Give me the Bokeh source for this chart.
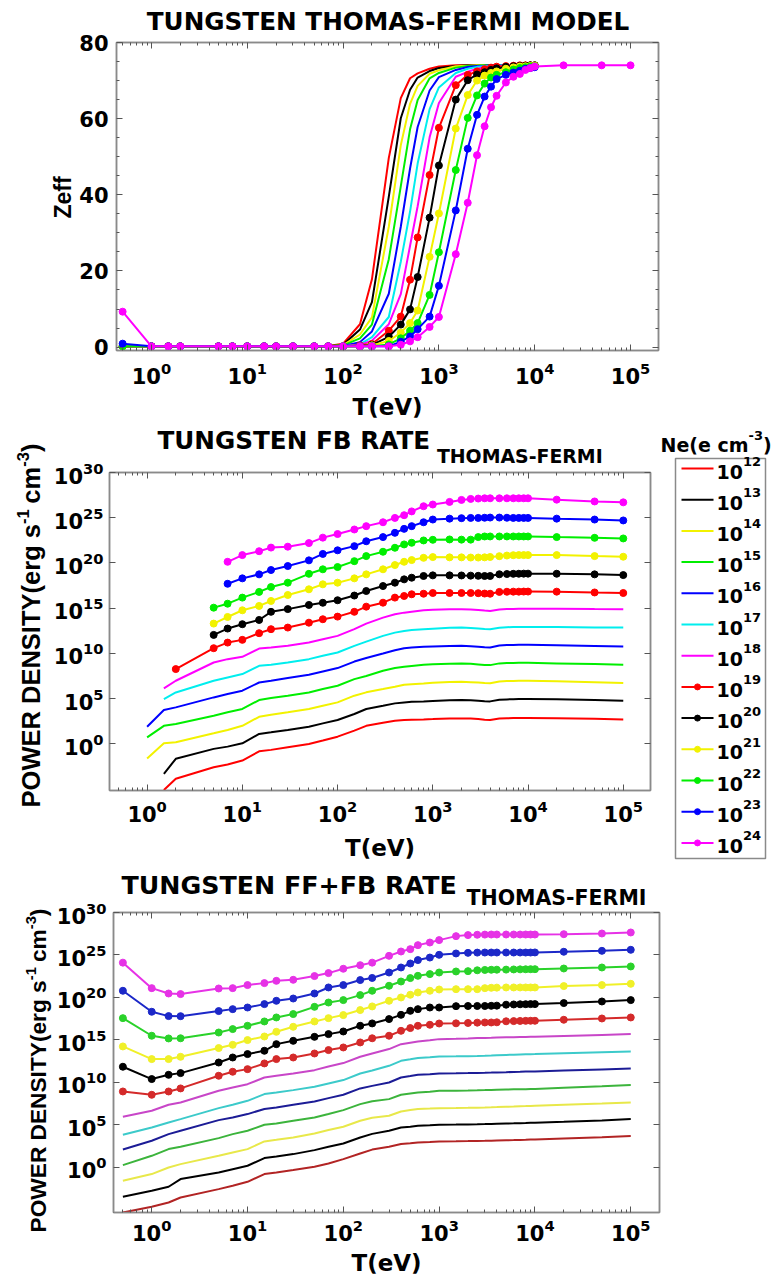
import math
import numpy as np
from bokeh.plotting import figure
from bokeh.layouts import column, row
from bokeh.models import (Range1d, FixedTicker, LogAxis, LinearAxis,
                          CustomJSTickFormatter, ColumnDataSource)
from bokeh.core.properties import value
from bokeh.embed import file_html
from bokeh.resources import INLINE

N = float("nan")

# ---------------------------------------------------------------- data
T_eV = [0.5, 1, 1.5, 2, 5, 7, 10, 15, 20, 30, 50, 70, 100, 150, 200, 300, 400, 500, 600, 800,
        1000, 1500, 2000, 2500, 3000, 3500, 4000, 5000, 6000, 7000, 8000, 9000, 10000,
        20000, 50000, 100000]
ne_exponents = ["12", "13", "14", "15", "16", "17", "18", "19", "20", "21", "22", "23", "24"]
x_ticks = [1, 10, 100, 1000, 10000, 100000]
zeff_ticks = [0, 20, 40, 60, 80]
power_ticks = [1e0, 1e5, 1e10, 1e15, 1e20, 1e25, 1e30]

# Zeff (panel 1)
zeff_ne12 = [0.2, 0.2, 0.2, 0.2, 0.2, 0.2, 0.2, 0.2, 0.2, 0.2, 0.2, 0.3, 0.9, 6.0, 17.8, 49.7, 65.4, 70.6, 71.9, 73.1, 73.7, 74, 74, 74, 74, 74, 74, 74, 74, 74, 74, 74, 74, N, N, N]
zeff_ne13 = [0.2, 0.2, 0.2, 0.2, 0.2, 0.2, 0.2, 0.2, 0.2, 0.2, 0.2, 0.2, 0.6, 4.6, 11.8, 39.5, 60.1, 67.6, 70.8, 72.5, 73.3, 73.85, 74, 74, 74, 74, 74, 74, 74, 74, 74, 74, 74, N, N, N]
zeff_ne14 = [0.2, 0.2, 0.2, 0.2, 0.2, 0.2, 0.2, 0.2, 0.2, 0.2, 0.2, 0.2, 0.5, 3.3, 7.8, 31.6, 53.0, 63.9, 68.6, 71.8, 72.7, 73.75, 73.9, 74, 74, 74, 74, 74, 74, 74, 74, 74, 74, N, N, N]
zeff_ne15 = [0.2, 0.2, 0.2, 0.2, 0.2, 0.2, 0.2, 0.2, 0.2, 0.2, 0.2, 0.2, 0.45, 2.3, 5.9, 23.1, 42.2, 57.2, 64.9, 70.6, 72.0, 73.4, 73.8, 73.9, 74, 74, 74, 74, 74, 74, 74, 74, 74, N, N, N]
zeff_ne16 = [0.2, 0.2, 0.2, 0.2, 0.2, 0.2, 0.2, 0.2, 0.2, 0.2, 0.2, 0.2, 0.3, 1.3, 4.1, 14.0, 31.6, 46.9, 57.8, 67.4, 70.9, 72.8, 73.55, 73.8, 73.9, 74, 74, 74, 74, 74, 74, 74, 74, N, N, N]
zeff_ne17 = [0.2, 0.2, 0.2, 0.2, 0.2, 0.2, 0.2, 0.2, 0.2, 0.2, 0.2, 0.2, 0.2, 0.7, 2.6, 7.9, 22.4, 35.6, 48.2, 62.5, 68.2, 72.0, 73.1, 73.6, 73.75, 73.85, 73.9, 74, 74, 74, 74, 74, 74, N, N, N]
zeff_ne18 = [0.2, 0.2, 0.2, 0.2, 0.2, 0.2, 0.2, 0.2, 0.2, 0.2, 0.2, 0.2, 0.2, 0.55, 1.7, 6.0, 13.9, 26.6, 37.0, 55.1, 64.1, 71.0, 72.3, 73.1, 73.5, 73.75, 73.8, 73.9, 74, 74, 74, 74, 74, N, N, N]
zeff_ne19 = [0.2, 0.2, 0.2, 0.2, 0.2, 0.2, 0.2, 0.2, 0.2, 0.2, 0.2, 0.2, 0.2, 0.45, 0.8, 4.3, 8.0, 17.7, 28.8, 45.2, 57.6, 68.8, 71.5, 72.4, 73.0, 73.4, 73.65, 73.8, 73.9, 74, 74, 74, 74, N, N, N]
zeff_ne20 = [0.2, 0.2, 0.2, 0.2, 0.2, 0.2, 0.2, 0.2, 0.2, 0.2, 0.2, 0.2, 0.2, 0.2, 0.6, 2.7, 5.9, 9.9, 18.4, 34.0, 47.7, 65.0, 70.1, 71.6, 72.2, 72.8, 73.2, 73.6, 73.75, 73.85, 73.9, 74, 74, N, N, N]
zeff_ne21 = [0.2, 0.2, 0.2, 0.2, 0.2, 0.2, 0.2, 0.2, 0.2, 0.2, 0.2, 0.2, 0.2, 0.2, 0.45, 1.6, 3.8, 6.3, 9.6, 23.7, 35.1, 57.4, 66.2, 70.0, 71.3, 72.0, 72.4, 73.1, 73.45, 73.7, 73.75, 73.85, 73.9, N, N, N]
zeff_ne22 = [0.2, 0.2, 0.2, 0.2, 0.2, 0.2, 0.2, 0.2, 0.2, 0.2, 0.2, 0.2, 0.2, 0.2, 0.2, 0.7, 2.3, 4.3, 6.3, 13.7, 24.9, 46.5, 60.2, 66.1, 69.2, 70.8, 71.5, 72.2, 72.9, 73.3, 73.5, 73.7, 73.75, N, N, N]
zeff_ne23 = [0.9, 0.2, 0.2, 0.2, 0.2, 0.2, 0.2, 0.2, 0.2, 0.2, 0.2, 0.2, 0.2, 0.2, 0.2, 0.2, 1.4, 2.8, 4.7, 8.0, 16.1, 35.9, 52.1, 61.0, 65.8, 68.4, 70.4, 71.5, 72.1, 72.6, 73.1, 73.3, 73.5, N, N, N]
zeff_ne24 = [9.3, 0.2, 0.2, 0.2, 0.2, 0.2, 0.2, 0.2, 0.2, 0.2, 0.2, 0.2, 0.2, 0.2, 0.2, 0.2, 0.6, 1.5, 2.6, 5.3, 7.9, 24.4, 37.9, 50.4, 58.0, 63.0, 66.0, 69.5, 71.0, 71.75, 72.8, 73.3, 73.7, 74, 74, 74]

# log10 of FB power density (panel 2)
log_fb_ne12 = [N, N, -5.1, -3.86, -2.58, -2.28, -1.84, -0.82, -0.66, -0.37, 0.0, 0.37, 0.8, 1.47, 2.0, 2.35, 2.57, 2.65, 2.68, 2.71, 2.74, 2.8, 2.82, 2.8, 2.75, 2.68, 2.65, 2.82, 2.84, 2.85, 2.86, 2.86, 2.86, 2.84, 2.78, 2.71]
log_fb_ne13 = [N, N, -3.3, -1.65, -0.55, -0.3, 0.07, 1.1, 1.28, 1.54, 1.9, 2.27, 2.65, 3.31, 3.86, 4.22, 4.48, 4.59, 4.65, 4.7, 4.75, 4.82, 4.85, 4.82, 4.78, 4.72, 4.7, 4.88, 4.92, 4.94, 4.96, 4.96, 4.96, 4.93, 4.85, 4.77]
log_fb_ne14 = [N, -1.6, 0.07, 0.18, 1.17, 1.54, 2.0, 3.0, 3.23, 3.49, 3.86, 4.22, 4.59, 5.33, 5.7, 6.06, 6.32, 6.54, 6.6, 6.68, 6.75, 6.85, 6.87, 6.82, 6.78, 6.72, 6.7, 6.9, 6.94, 6.96, 6.98, 6.98, 6.98, 6.92, 6.82, 6.73]
log_fb_ne15 = [N, 0.73, 2.0, 2.2, 3.12, 3.49, 3.86, 4.85, 5.07, 5.33, 5.69, 6.06, 6.43, 7.16, 7.5, 8.08, 8.38, 8.52, 8.62, 8.74, 8.8, 8.87, 8.89, 8.85, 8.78, 8.72, 8.71, 8.9, 8.93, 8.95, 8.96, 8.96, 8.96, 8.9, 8.82, 8.74]
log_fb_ne16 = [N, 1.9, 3.75, 4.04, 5.14, 5.51, 5.88, 6.79, 6.98, 7.28, 7.64, 8.0, 8.38, 9.1, 9.5, 9.99, 10.36, 10.58, 10.65, 10.73, 10.78, 10.83, 10.84, 10.8, 10.74, 10.68, 10.65, 10.88, 10.92, 10.94, 10.95, 10.95, 10.95, 10.9, 10.83, 10.76]
log_fb_ne17 = [N, N, 4.96, 5.69, 6.98, 7.35, 7.72, 8.63, 8.74, 9.0, 9.37, 9.74, 10.1, 10.84, 11.3, 11.94, 12.3, 12.49, 12.58, 12.68, 12.74, 12.84, 12.86, 12.82, 12.76, 12.7, 12.68, 12.85, 12.9, 12.92, 12.93, 12.93, 12.93, 12.92, 12.88, 12.86]
log_fb_ne18 = [N, N, 6.13, 6.98, 9.0, 9.37, 9.63, 10.54, 10.65, 10.84, 11.2, 11.57, 11.94, 12.68, 13.3, 13.96, 14.33, 14.51, 14.62, 14.77, 14.82, 14.88, 14.88, 14.85, 14.8, 14.74, 14.7, 14.85, 14.9, 14.92, 14.95, 14.95, 14.95, 14.94, 14.9, 14.88]
log_fb_ne19 = [N, N, N, 8.27, 10.58, 11.2, 11.5, 12.24, 12.68, 12.86, 13.4, 13.78, 14.07, 14.6, 15.17, 15.61, 16.17, 16.35, 16.54, 16.6, 16.68, 16.68, 16.68, 16.68, 16.66, 16.62, 16.6, 16.8, 16.82, 16.83, 16.83, 16.84, 16.84, 16.83, 16.74, 16.68]
log_fb_ne20 = [N, N, N, N, 12.05, 12.75, 13.23, 13.7, 14.6, 14.9, 15.36, 15.6, 15.88, 16.4, 16.9, 17.45, 17.82, 18.19, 18.37, 18.56, 18.63, 18.63, 18.62, 18.6, 18.58, 18.56, 18.56, 18.75, 18.78, 18.8, 18.81, 18.82, 18.82, 18.81, 18.74, 18.66]
log_fb_ne21 = [N, N, N, N, 13.3, 14.03, 14.77, 15.25, 15.8, 16.46, 17.09, 17.64, 17.82, 18.3, 18.74, 19.3, 19.77, 20.13, 20.32, 20.57, 20.65, 20.62, 20.62, 20.6, 20.6, 20.62, 20.66, 20.75, 20.82, 20.86, 20.87, 20.87, 20.87, 20.87, 20.76, 20.69]
log_fb_ne22 = [N, N, N, N, 15.06, 15.5, 16.17, 16.8, 17.34, 17.82, 18.8, 19.3, 19.55, 20.2, 20.76, 21.24, 21.68, 22.05, 22.23, 22.49, 22.56, 22.6, 22.58, 22.58, 22.86, 22.93, 22.93, 22.93, 22.93, 22.93, 22.93, 22.93, 22.93, 22.86, 22.78, 22.71]
log_fb_ne23 = [N, N, N, N, N, 17.7, 18.3, 18.74, 19.22, 19.66, 20.29, 21.0, 21.4, 21.86, 22.4, 22.86, 23.33, 23.77, 24.07, 24.5, 24.8, 24.9, 24.95, 24.98, 24.98, 25.0, 25.02, 25.02, 25.0, 24.98, 24.98, 24.98, 24.98, 24.9, 24.8, 24.7]
log_fb_ne24 = [N, N, N, N, N, 20.13, 20.87, 21.3, 21.7, 21.8, 22.2, 22.8, 23.2, 23.7, 24.07, 24.5, 24.98, 25.28, 25.7, 26.27, 26.46, 26.75, 26.97, 27.08, 27.12, 27.15, 27.15, 27.15, 27.15, 27.15, 27.15, 27.15, 27.15, 27.0, 26.8, 26.7]

# log10 of FF+FB power density (panel 3)
log_ffb_ne12 = [-5.3, -4.63, -4.12, -3.53, -2.55, -2.16, -1.69, -0.78, -0.59, -0.31, 0.08, 0.47, 0.98, 1.65, 2.1, 2.43, 2.75, 2.85, 2.94, 3.0, 3.06, 3.08, 3.1, 3.12, 3.13, 3.15, 3.17, 3.2, 3.22, 3.24, 3.26, 3.28, 3.29, 3.4, 3.55, 3.69]
log_ffb_ne13 = [-3.45, -2.74, -2.27, -1.37, -0.59, -0.2, 0.2, 1.1, 1.29, 1.57, 2.04, 2.43, 2.82, 3.53, 3.95, 4.32, 4.71, 4.8, 4.9, 4.96, 5.02, 5.04, 5.06, 5.08, 5.1, 5.12, 5.14, 5.17, 5.19, 5.21, 5.23, 5.25, 5.26, 5.37, 5.53, 5.69]
log_ffb_ne14 = [-1.57, -0.78, 0.0, 0.39, 1.37, 1.76, 2.16, 3.06, 3.25, 3.53, 4.0, 4.4, 4.79, 5.49, 5.85, 6.08, 6.59, 6.75, 6.87, 6.93, 6.98, 7.0, 7.02, 7.04, 7.06, 7.08, 7.1, 7.14, 7.17, 7.2, 7.22, 7.24, 7.26, 7.38, 7.52, 7.65]
log_ffb_ne15 = [0.28, 1.37, 2.16, 2.43, 3.45, 3.92, 4.32, 5.02, 5.18, 5.49, 5.88, 6.28, 6.75, 7.45, 7.8, 8.04, 8.55, 8.7, 8.82, 8.92, 9.02, 9.04, 9.06, 9.08, 9.1, 9.12, 9.14, 9.17, 9.19, 9.2, 9.21, 9.22, 9.22, 9.38, 9.55, 9.69]
log_ffb_ne16 = [2.12, 3.14, 3.92, 4.32, 5.57, 5.88, 6.28, 6.87, 7.06, 7.38, 7.76, 8.16, 8.55, 9.3, 9.6, 10.0, 10.59, 10.75, 10.9, 10.98, 11.06, 11.08, 11.1, 11.12, 11.14, 11.16, 11.18, 11.21, 11.24, 11.26, 11.28, 11.29, 11.29, 11.4, 11.54, 11.65]
log_ffb_ne17 = [3.84, 4.71, 5.29, 5.69, 6.98, 7.38, 7.84, 8.63, 8.82, 9.1, 9.49, 9.88, 10.28, 11.06, 11.4, 11.96, 12.55, 12.72, 12.87, 12.97, 13.06, 13.08, 13.1, 13.12, 13.14, 13.17, 13.2, 13.24, 13.27, 13.3, 13.32, 13.33, 13.34, 13.45, 13.56, 13.65]
log_ffb_ne18 = [5.96, 6.67, 7.38, 7.65, 9.02, 9.41, 9.8, 10.59, 10.79, 11.06, 11.45, 11.88, 12.28, 13.02, 13.4, 13.93, 14.51, 14.68, 14.82, 14.96, 15.1, 15.14, 15.18, 15.22, 15.24, 15.26, 15.28, 15.31, 15.33, 15.35, 15.36, 15.37, 15.37, 15.48, 15.6, 15.69]
log_ffb_ne19 = [8.94, 8.55, 8.94, 9.3, 10.79, 11.26, 11.57, 12.24, 12.75, 12.94, 13.41, 13.81, 14.12, 14.71, 15.2, 15.5, 16.08, 16.4, 16.67, 16.79, 16.94, 16.96, 17.0, 17.04, 17.06, 17.06, 17.08, 17.2, 17.22, 17.24, 17.25, 17.26, 17.26, 17.38, 17.53, 17.65]
log_ffb_ne20 = [11.85, 10.4, 10.9, 11.1, 12.35, 12.94, 13.34, 13.73, 14.51, 14.9, 15.37, 15.69, 16.0, 16.67, 16.95, 17.46, 17.96, 18.43, 18.63, 18.82, 18.82, 18.98, 19.0, 19.0, 19.0, 19.02, 19.04, 19.15, 19.18, 19.2, 19.21, 19.22, 19.22, 19.34, 19.53, 19.69]
log_ffb_ne21 = [14.24, 12.75, 12.75, 13.02, 14.05, 14.43, 14.99, 15.41, 15.96, 16.55, 17.18, 17.57, 17.93, 18.52, 18.95, 19.61, 20.0, 20.32, 20.59, 20.79, 20.94, 20.98, 20.98, 20.98, 21.1, 21.14, 21.16, 21.18, 21.18, 21.18, 21.18, 21.18, 21.18, 21.34, 21.46, 21.61]
log_ffb_ne22 = [17.57, 15.5, 15.18, 15.2, 15.88, 16.28, 16.67, 17.18, 17.65, 18.05, 18.9, 19.41, 19.69, 20.28, 20.79, 21.38, 21.88, 22.28, 22.55, 22.75, 22.94, 23.06, 23.1, 23.2, 23.24, 23.26, 23.27, 23.28, 23.3, 23.31, 23.32, 23.33, 23.33, 23.41, 23.53, 23.65]
log_ffb_ne23 = [20.79, 18.32, 17.81, 17.8, 18.4, 18.63, 18.82, 19.22, 19.61, 19.88, 20.47, 21.18, 21.46, 22.05, 22.3, 22.94, 23.53, 24.0, 24.4, 24.7, 25.02, 25.18, 25.25, 25.28, 25.29, 25.29, 25.29, 25.29, 25.29, 25.29, 25.29, 25.29, 25.3, 25.38, 25.49, 25.61]
log_ffb_ne24 = [24.1, 21.1, 20.47, 20.4, 21.06, 21.1, 21.46, 21.69, 21.96, 22.08, 22.52, 22.87, 23.38, 23.8, 24.1, 24.9, 25.41, 25.69, 26.16, 26.47, 26.75, 27.22, 27.34, 27.38, 27.4, 27.41, 27.41, 27.41, 27.41, 27.41, 27.41, 27.41, 27.41, 27.45, 27.53, 27.65]

# ---------------------------------------------------------------- style
series_colors = ["#ff0000", "#000000", "#f2f200", "#00ee00", "#0000ff", "#00eeee", "#ff00ff",
                 "#ff0000", "#000000", "#f2f200", "#00ee00", "#0000ff", "#ff00ff"]
series_colors_p3 = ["#b22424", "#000000", "#e8e84a", "#3cb43c", "#1c1c96", "#3ccaca", "#c846c8",
                    "#d42a2a", "#000000", "#f0f028", "#2ad22a", "#1c28c8", "#e632e6"]
has_markers = [False, False, False, False, False, False, False, True, True, True, True, True, True]

zeff_series = [zeff_ne12, zeff_ne13, zeff_ne14, zeff_ne15, zeff_ne16, zeff_ne17, zeff_ne18,
               zeff_ne19, zeff_ne20, zeff_ne21, zeff_ne22, zeff_ne23, zeff_ne24]
fb_series = [log_fb_ne12, log_fb_ne13, log_fb_ne14, log_fb_ne15, log_fb_ne16, log_fb_ne17, log_fb_ne18,
             log_fb_ne19, log_fb_ne20, log_fb_ne21, log_fb_ne22, log_fb_ne23, log_fb_ne24]
ffb_series = [log_ffb_ne12, log_ffb_ne13, log_ffb_ne14, log_ffb_ne15, log_ffb_ne16, log_ffb_ne17, log_ffb_ne18,
              log_ffb_ne19, log_ffb_ne20, log_ffb_ne21, log_ffb_ne22, log_ffb_ne23, log_ffb_ne24]

FONT_H = "DejaVu Sans"
FONT_V = "Liberation Sans"
BOX = "#8a8a8a"
TICK = "#555555"

minor_x = [m * 10.0 ** d for d in range(-1, 5) for m in range(2, 10)]
minor_zeff = [v for v in range(0, 81, 5) if v % 20]

# Liberation Sans Bold advance widths (per 1000 em), used to lay out the rotated label pieces
ARIAL_BOLD = {' ': 278, '(': 333, ')': 333, '-': 333, '1': 556, '3': 556, 'P': 667, 'O': 778,
              'W': 944, 'E': 667, 'R': 722, 'D': 722, 'N': 722, 'S': 667, 'I': 278, 'T': 611,
              'Y': 667, 'e': 556, 'r': 389, 'g': 611, 's': 556, 'c': 556, 'm': 889}


def arial_w(s, size):
    return sum(ARIAL_BOLD.get(c, 600) for c in s) * size / 1000.0


def style_axis(ax, standoff, size="21px"):
    ax.axis_line_color = BOX
    ax.axis_line_width = 1.5
    ax.major_tick_in = 6
    ax.major_tick_out = 0
    ax.minor_tick_in = 3
    ax.minor_tick_out = 0
    ax.major_tick_line_color = TICK
    ax.minor_tick_line_color = TICK
    ax.major_label_text_font = FONT_H
    ax.major_label_text_font_style = "bold"
    ax.major_label_text_font_size = size
    ax.major_label_text_color = "black"
    ax.major_label_standoff = standoff


def build_panel(width, height, left, right, top, bottom, overlap, xr, yr, ylog, yticks, yminor,
                xstand, ystand, xlabel_standoff):
    # the panel is pulled up by `overlap` px under the (text-only) strip above it; its border is transparent
    p = figure(width=width, height=height,
               x_axis_type="log", y_axis_type="log" if ylog else "linear",
               x_range=Range1d(*xr), y_range=Range1d(*yr),
               toolbar_location=None, output_backend="svg",
               min_border_left=left, min_border_right=right,
               min_border_top=top, min_border_bottom=bottom,
               margin=(-overlap, 0, 0, 0))
    p.border_fill_color = None
    p.background_fill_color = "white"
    p.grid.visible = False
    p.outline_line_color = BOX
    p.outline_line_width = 1.5
    xt = FixedTicker(ticks=x_ticks, minor_ticks=minor_x)
    yt = FixedTicker(ticks=yticks, minor_ticks=yminor)
    p.xaxis.ticker = xt
    p.yaxis.ticker = yt
    style_axis(p.xaxis[0], xstand)
    style_axis(p.yaxis[0], ystand)
    xa = p.xaxis[0]
    xa.axis_label = "T(eV)"
    xa.axis_label_text_font = FONT_H
    xa.axis_label_text_font_style = "bold"
    xa.axis_label_text_font_size = "23px"
    xa.axis_label_text_color = "black"
    xa.axis_label_standoff = xlabel_standoff
    top_ax = LogAxis(ticker=xt, formatter=CustomJSTickFormatter(code="return '';"))
    right_ax = (LogAxis if ylog else LinearAxis)(ticker=yt, formatter=CustomJSTickFormatter(code="return '';"))
    for ax in (top_ax, right_ax):
        style_axis(ax, 0, "1px")
    p.add_layout(top_ax, "above")
    p.add_layout(right_ax, "right")
    return p


def strip(w, h, x0, y0, left=0, right=0):
    """Text-only figure; its frame spans x0+left .. x0+w-right (same side borders as the panel below)."""
    fw = w - left - right
    s = figure(width=w, height=h, x_range=Range1d(0, fw), y_range=Range1d(0, h),
               toolbar_location=None, output_backend="svg",
               min_border_left=left, min_border_right=right, min_border_top=0, min_border_bottom=0,
               x_axis_location=None, y_axis_location=None)
    s.grid.visible = False
    s.outline_line_color = None
    return (s, x0 + left, y0, h)


def txt(st, t, xa, ya, size, font=FONT_H, align="left", angle=0.0):
    # (xa, ya) = page position of the visual centre line of the text
    f, fx0, y0, h = st
    f.text(x=[xa - fx0], y=[y0 + h - ya], text=[t], text_font=value(font), text_font_style="bold",
           text_font_size=value(f"{round(size, 1)}px"), text_align=align, text_baseline="middle",
           angle=angle, text_color="black")


def power_label(st, cx, cy, size):
    pieces = [("POWER DENSITY(erg s", False, 0.0), ("-1", True, 0.0), ("cm", False, 0.22),
              ("-3", True, 0.0), (")", False, 0.0)]
    sup = 0.65
    total = 0.0
    for t, s, g in pieces:
        total += g * size + arial_w(t, size * sup if s else size)
    pos = cy + total / 2.0
    for t, s, g in pieces:
        pos -= g * size
        fs = size * sup if s else size
        x = cx - (0.30 * size if s else 0.0)
        txt(st, t, x, pos, fs, font=FONT_V, angle=math.pi / 2)
        pos -= arial_w(t, fs)


def draw_series(p, x, ys, colors, size=7):
    for y, c, m in zip(ys, colors, has_markers):
        src = ColumnDataSource(dict(x=np.array(x, dtype=float), y=np.array(y, dtype=float)))
        p.line("x", "y", source=src, line_color=c, line_width=2)
        if m:
            p.scatter("x", "y", source=src, size=size, fill_color=c, line_color=c)


# ---------------------------------------------------------------- panel 1 (y 0..425)
yl1 = strip(76, 425, 0, 0)
t1 = strip(703, 36, 76, 0, 39, 121)
p1 = build_panel(703, 397, 39, 121, 14, 75, 8, (10 ** -0.365, 10 ** 5.292), (-0.9, 80), False,
                 zeff_ticks, minor_zeff, 11, 8, 7)
draw_series(p1, T_eV, zeff_series, series_colors, 7)
txt(t1, "TUNGSTEN THOMAS-FERMI MODEL", 387, 21, 24.7, align="center")
txt(yl1, "Zeff", 62, 197, 23, font=FONT_V, align="center", angle=math.pi / 2)

# ---------------------------------------------------------------- panel 2 (y 425..870)
yl2 = strip(50, 445, 0, 425)
t2 = strip(608, 41, 50, 425, 58, 8)
p2 = build_panel(608, 424, 58, 8, 26, 80, 20, (10 ** -0.395, 10 ** 5.286), (10 ** -5.15, 1e30), True,
                 power_ticks, [], 9, 6, 10)
fb_vals = [np.power(10.0, np.array(s, dtype=float)) for s in fb_series]
draw_series(p2, T_eV, fb_vals, series_colors, 7)
txt(t2, "TUNGSTEN FB RATE", 156, 440, 24.7)
txt(t2, "THOMAS-FERMI", 436, 455, 18.9)
power_label(yl2, 30, 625, 25.5)

LEG_W, LEG_H = 121, 445
pl = figure(width=LEG_W, height=LEG_H, x_range=Range1d(0, LEG_W), y_range=Range1d(LEG_H, 0),
            toolbar_location=None, output_backend="svg", min_border=0,
            x_axis_location=None, y_axis_location=None)
pl.grid.visible = False
pl.outline_line_color = None
pl.quad(left=[17], right=[107], top=[33], bottom=[433], fill_color="white",
        line_color=BOX, line_width=1.5)
entry_y = [43 + 31.2 * i for i in range(len(ne_exponents))]
pl.multi_line(xs=[[23, 55] for _ in entry_y], ys=[[y, y] for y in entry_y],
              line_color=series_colors, line_width=2)
mk = [i for i, m in enumerate(has_markers) if m]
pl.scatter(x=[39] * len(mk), y=[entry_y[i] for i in mk], size=6,
           fill_color=[series_colors[i] for i in mk], line_color=[series_colors[i] for i in mk])
pl.text(x=[58] * len(entry_y), y=[y + 3 for y in entry_y], text=["10"] * len(entry_y),
        text_font=value(FONT_H), text_font_style="bold", text_font_size=value("19px"),
        text_baseline="middle", text_align="left", text_color="black")
pl.text(x=[84.5] * len(entry_y), y=[y - 7 for y in entry_y], text=ne_exponents,
        text_font=value(FONT_H), text_font_style="bold", text_font_size=value("13px"),
        text_baseline="middle", text_align="left", text_color="black")
pl.text(x=[2], y=[19], text=["Ne(e cm"], text_font=value(FONT_H), text_font_style="bold",
        text_font_size=value("19px"), text_baseline="middle", text_align="left", text_color="black")
pl.text(x=[90], y=[10], text=["-3"], text_font=value(FONT_H), text_font_style="bold",
        text_font_size=value("13px"), text_baseline="middle", text_align="left", text_color="black")
pl.text(x=[104.5], y=[19], text=[")"], text_font=value(FONT_H), text_font_style="bold",
        text_font_size=value("19px"), text_baseline="middle", text_align="left", text_color="black")

# ---------------------------------------------------------------- panel 3 (y 870..1282)
yl3 = strip(52, 412, 0, 870)
t3 = strip(727, 39, 52, 870, 61, 120)
p3 = build_panel(727, 390, 61, 120, 20, 70, 17, (10 ** -0.399, 10 ** 5.30), (10 ** -5.3, 1e30), True,
                 power_ticks, [], 6, 7, 6)
ffb_vals = [np.power(10.0, np.array(s, dtype=float)) for s in ffb_series]
draw_series(p3, T_eV, ffb_vals, series_colors_p3, 7)
txt(t3, "TUNGSTEN FF+FB RATE", 121, 885, 25.3)
txt(t3, "THOMAS-FERMI", 466, 897, 20.5)
power_label(yl3, 37, 1070, 22.7)

layout = column(
    row(yl1[0], column(t1[0], p1)),
    row(yl2[0], column(t2[0], p2), pl),
    row(yl3[0], column(t3[0], p3)),
)
open("out.html", "w").write(file_html(layout, INLINE))
